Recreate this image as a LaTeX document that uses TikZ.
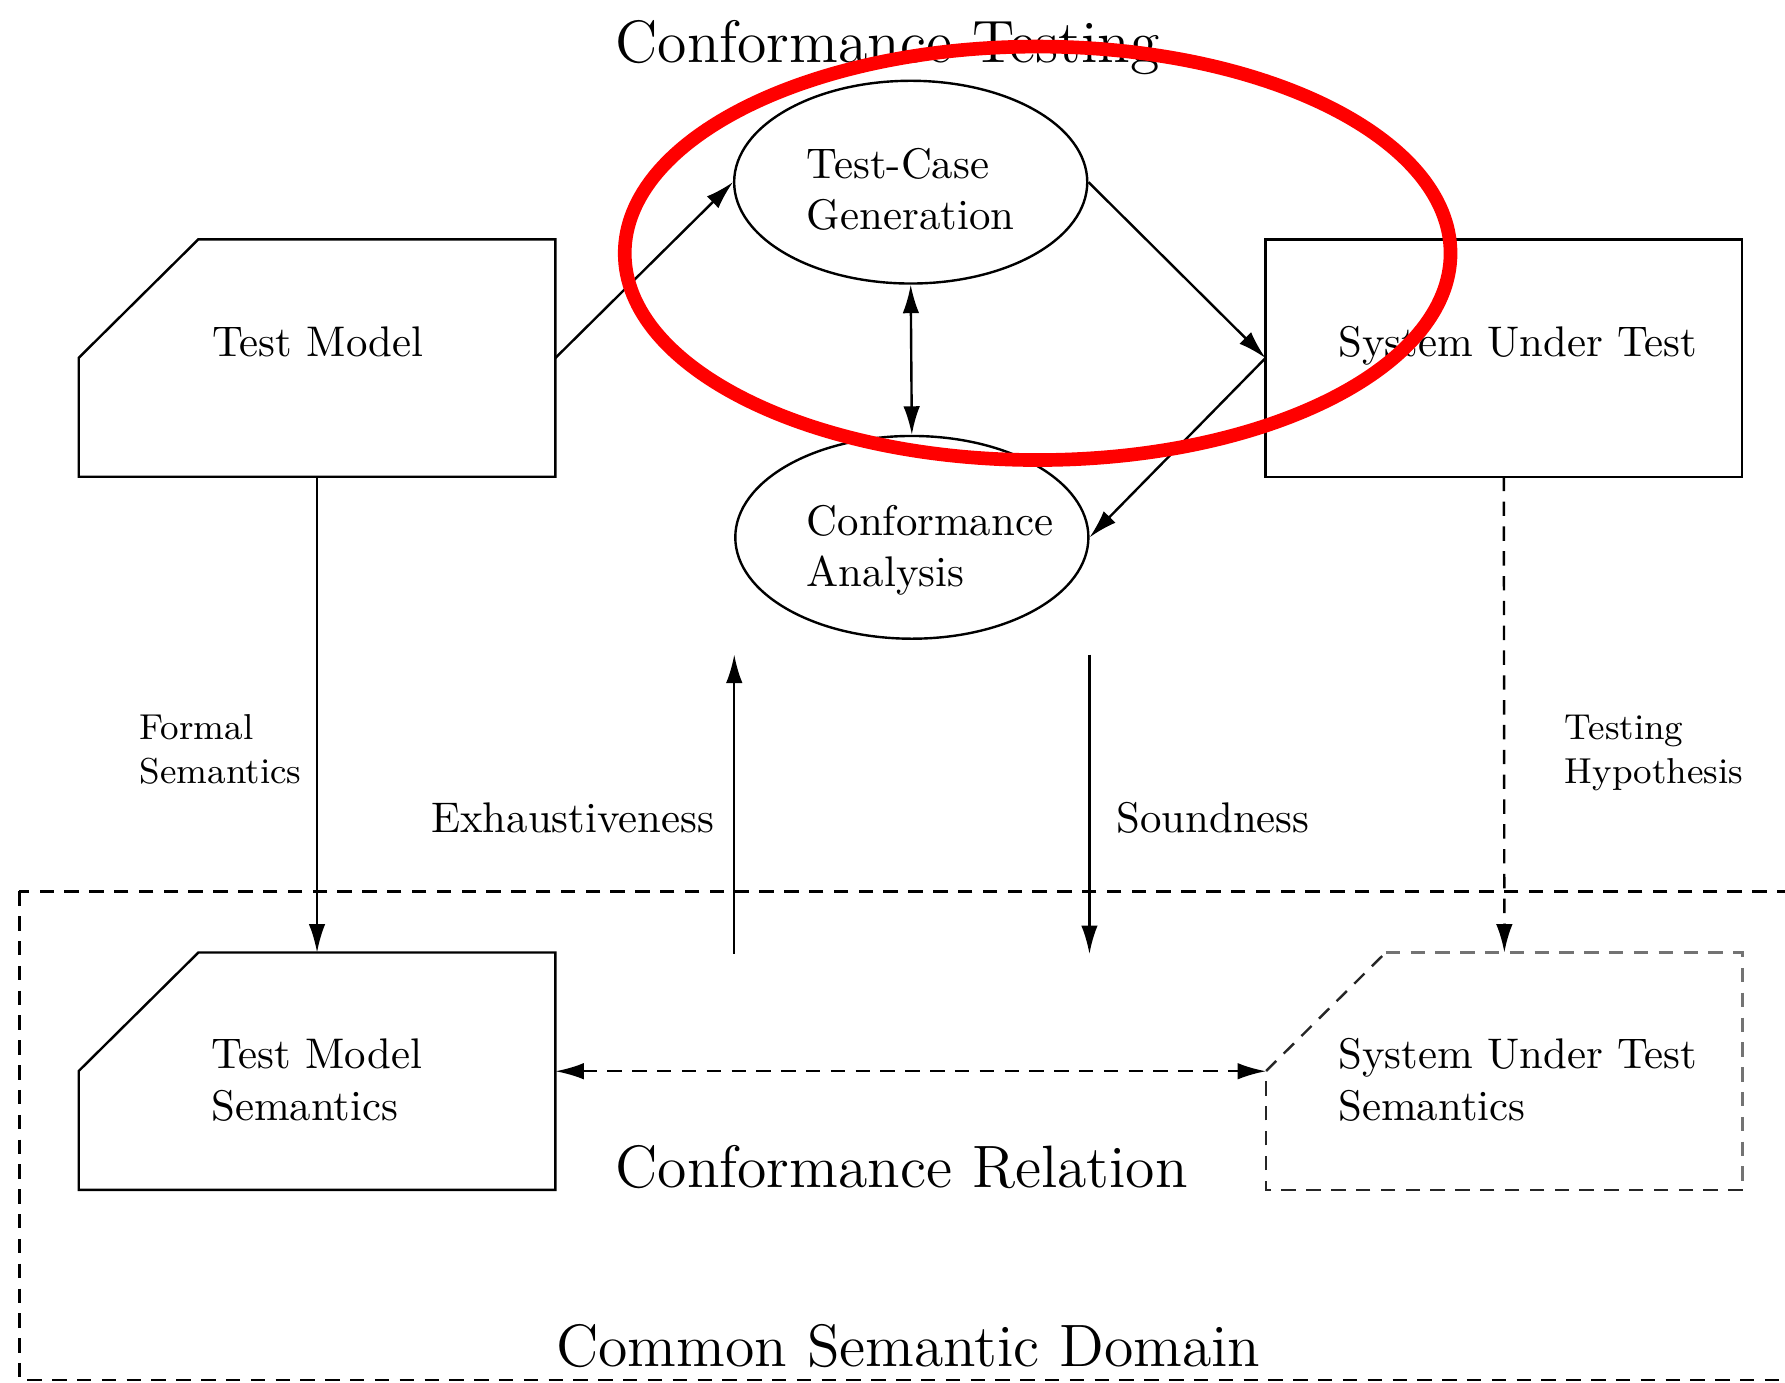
\documentclass[tikz,border=0pt]{standalone}
\usetikzlibrary{arrows.meta,shapes.geometric}
\begin{document}
\begin{tikzpicture}[x=0.01cm,y=-0.01cm,
  thin line/.style={line width=0.6pt},
  box/.style={minimum width=4.17cm, minimum height=2.07cm, inner sep=0pt},
  oval/.style={draw, thin line, ellipse, minimum width=3.1cm, minimum height=1.78cm, inner sep=0pt},
  conn/.style={thin line, -{Latex[length=2.5mm,width=1.45mm]}},
  bothconn/.style={thin line, {Latex[length=2.5mm,width=1.45mm]}-{Latex[length=2.5mm,width=1.45mm]}},
  dashline/.style={thin line, dash pattern=on 3.6pt off 2.6pt},
  lbl/.style={inner sep=0pt, font=\fontsize{10.7}{12.8}\selectfont, align=left, anchor=base west},
  biglbl/.style={inner sep=0pt, font=\fontsize{14.95}{17.5}\selectfont, anchor=base west},
  smalllbl/.style={inner sep=0pt, font=\fontsize{9}{10.8}\selectfont, align=left, anchor=base west},
]
\useasboundingbox (0,0) rectangle (1568,1214);
\clip (0,0) rectangle (1568,1214);

% common semantic domain frame
\draw[dashline] (17,783) rectangle (1620,1212);

% box and ellipse nodes
\node[box] (tm)   at (278.5,314.5) {};
\node[box] (sut)  at (1321,314.5) {};
\node[box] (tms)  at (278.5,941) {};
\node[box] (suts) at (1321.5,941) {};
\node[oval] (tcg) at (800,160) {};
\node[oval] (ca)  at (801,472) {};

% chamfered outlines
\draw[thin line] ([xshift=1.05cm]tm.north west) -- (tm.north east) -- (tm.south east)
  -- (tm.south west) -- ([yshift=-1.04cm]tm.north west) -- cycle;
\draw[thin line] ([xshift=1.05cm]tms.north west) -- (tms.north east) -- (tms.south east)
  -- (tms.south west) -- ([yshift=-1.04cm]tms.north west) -- cycle;
\draw[thin line] (sut.north west) rectangle (sut.south east);
\draw[dashline, black!85] ([yshift=-1.04cm]suts.north west) -- ([xshift=1.05cm]suts.north west);
\draw[dashline, black!55] ([xshift=1.05cm]suts.north west) -- (suts.north east) -- (suts.south east);
\draw[dashline, black!85] (suts.south east) -- (suts.south west) -- ([yshift=-1.04cm]suts.north west);

% texts (multi-line nodes are anchored at the baseline of their last line)
\node[biglbl] (t1) at (540,55) {Conformance Testing};
\node[biglbl] (t2) at (540,1043) {Conformance Relation};
\node[biglbl] (t3) at (488,1200) {Common Semantic Domain};
\node[lbl] (tmt)  at (186,313) {Test Model};
\node[lbl] (sutt) at (1175,313) {System Under Test};
\node[lbl] (tcgt) at (708,202) {Test-Case\\Generation};
\node[lbl] (cat)  at (708,515) {Conformance\\Analysis};
\node[lbl] (tmst) at (185,984) {Test Model\\Semantics};
\node[lbl] (sutst) at (1175,984) {System Under Test\\Semantics};
\node[lbl] (ex) at (378,731) {Exhaustiveness};
\node[lbl] (sd) at (980,731) {Soundness};
\node[smalllbl] (fs) at (122,688) {Formal\\Semantics};
\node[smalllbl] (th) at (1374,688) {Testing\\Hypothesis};

% free ends of the two vertical arrows
\coordinate (exb) at (645,838);
\coordinate (ext) at (645,575);
\coordinate (sdt) at (957,575);
\coordinate (sdb) at (957,838);

% connectors
\draw[conn] (tm.east) -- (tcg.west);
\draw[conn] (tcg.east) -- (sut.west);
\draw[conn] (sut.west) -- (ca.east);
\draw[bothconn] (tcg.south) -- (ca.north);
\draw[conn] (tm.south) -- (tms.north);
\draw[conn, dash pattern=on 3.6pt off 2.6pt] (sut.south) -- (suts.north);
\draw[conn] (exb) -- (ext);
\draw[conn] (sdt) -- (sdb);
\draw[bothconn, dash pattern=on 3.6pt off 2.6pt] (tms.east) -- (suts.west);

% red highlight
\draw[red, line width=0.12cm] (911.5,222.5) ellipse [x radius=3.625cm, y radius=1.815cm];
\end{tikzpicture}
\end{document}
